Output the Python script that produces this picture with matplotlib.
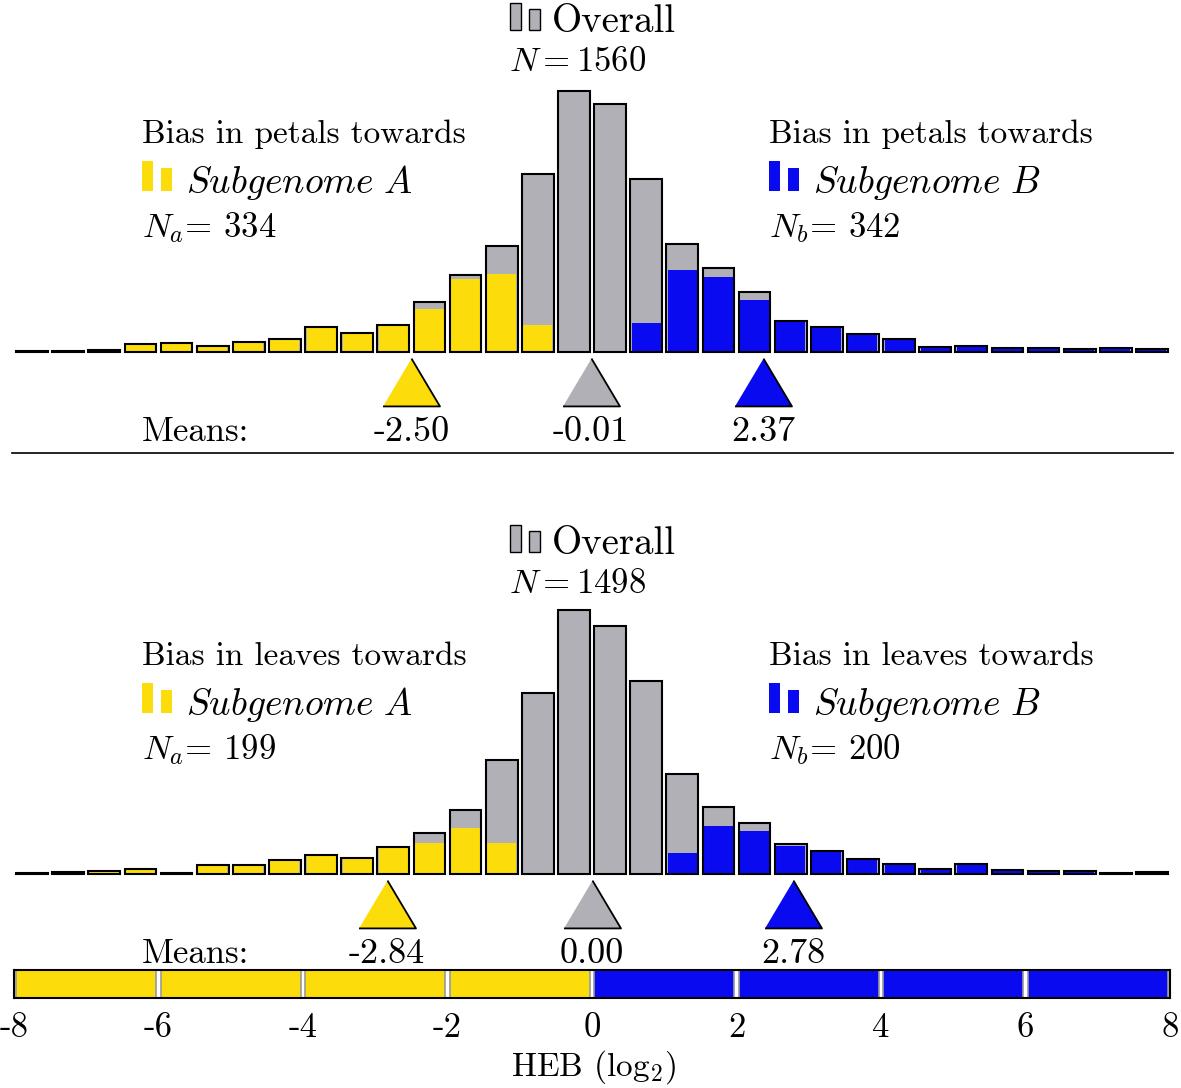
import numpy as np
import matplotlib
matplotlib.use("Agg")
import matplotlib.pyplot as plt
from matplotlib.patches import Rectangle
from matplotlib.lines import Line2D

plt.rcParams['font.family'] = ['cmr10', 'DejaVu Serif']
plt.rcParams['mathtext.fontset'] = 'cm'
plt.rcParams['axes.unicode_minus'] = False

# bins of width 0.5 from -8 to 8
bin_edges = np.arange(-8, 8, 0.5)

# petals (top panel)
petal_total = [1, 1, 2, 8, 9, 6, 10, 13, 25, 19, 27, 50, 77, 106, 178, 261,
               248, 173, 108, 84, 60, 31, 25, 18, 13, 5, 6, 4, 4, 3, 4, 3]
petal_a = [1, 1, 2, 8, 9, 6, 10, 13, 25, 19, 27, 43, 73, 78, 27, 0,
           0, 0, 0, 0, 0, 0, 0, 0, 0, 0, 0, 0, 0, 0, 0, 0]
petal_b = [0, 0, 0, 0, 0, 0, 0, 0, 0, 0, 0, 0, 0, 0, 0, 0,
           0, 29, 82, 75, 52, 31, 25, 18, 13, 5, 6, 4, 4, 3, 4, 3]
petal_means = [-2.50, -0.01, 2.37]
petal_n = [1560, 334, 342]

# leaves (bottom panel)
leaf_total = [1, 2, 3, 5, 1, 9, 9, 14, 19, 16, 27, 41, 64, 114, 181, 264,
              248, 193, 100, 67, 51, 30, 23, 15, 10, 5, 10, 4, 3, 3, 1, 2]
leaf_a = [1, 2, 3, 5, 1, 9, 9, 14, 19, 16, 27, 31, 46, 31, 0, 0,
          0, 0, 0, 0, 0, 0, 0, 0, 0, 0, 0, 0, 0, 0, 0, 0]
leaf_b = [0, 0, 0, 0, 0, 0, 0, 0, 0, 0, 0, 0, 0, 0, 0, 0,
          0, 0, 21, 48, 43, 28, 23, 15, 10, 5, 10, 4, 3, 3, 1, 2]
leaf_means = [-2.84, 0.00, 2.78]
leaf_n = [1498, 199, 200]

tick_values = list(range(-8, 9, 2))
tick_labels = ['-8', '-6', '-4', '-2', '0', '2', '4', '6', '8']

GRAY = '#b0b0b6'
YELLOW = '#fcdc0a'
BLUE = '#0a0af0'

W, H = 1181, 1088
fig = plt.figure(figsize=(W / 100, H / 100), dpi=100)


def fx(px):
    return px / W


def fy(py):
    return 1 - py / H


X0, X1 = 14, 1170
FS = 24
tri = [(-1, -0.84), (1, -0.84), (0, 0.84)]


def swatch(x, y0, y1, w, color, edge):
    fig.add_artist(Rectangle((fx(x), fy(y1)), w / W, (y1 - y0) / H,
                             transform=fig.transFigure, facecolor=color,
                             edgecolor='black' if edge else 'none', linewidth=1))


def draw_panel(ax, total, part_a, part_b, means, ns, organ, y_off):
    centers = bin_edges + 0.25
    ax.bar(centers, total, width=0.44, color=GRAY, linewidth=0)
    ax.bar(centers, part_a, width=0.40, color=YELLOW, linewidth=0)
    ax.bar(centers, part_b, width=0.40, color=BLUE, linewidth=0)
    ax.bar(centers, total, width=0.44, fill=False, edgecolor='black', linewidth=1.5)
    ax.set_xlim(-8, 8)
    ax.axis('off')

    for m, c in zip(means, [YELLOW, GRAY, BLUE]):
        ax.plot([m], [-30], marker=tri, markersize=41, markerfacecolor=c,
                markeredgecolor='black', markeredgewidth=1.3, linestyle='none')
        ax.text(m, -89, '%.2f' % m, ha='center', va='baseline', fontsize=26)

    # overall legend
    swatch(510, y_off + 3, y_off + 30, 11, GRAY, True)
    swatch(529, y_off + 9, y_off + 30, 11, GRAY, True)
    fig.text(fx(552), fy(y_off + 32), 'Overall', fontsize=28, va='baseline')
    fig.text(fx(509), fy(y_off + 71), r'$N = %d$' % ns[0], fontsize=25, va='baseline')

    for xl, color, sub, lab, n in [(142, YELLOW, 'A', 'a', ns[1]),
                                   (769, BLUE, 'B', 'b', ns[2])]:
        fig.text(fx(xl), fy(y_off + 143), 'Bias in %s towards' % organ,
                 fontsize=FS, va='baseline')
        swatch(xl, y_off + 161, y_off + 191, 11, color, False)
        swatch(xl + 19, y_off + 168, y_off + 191, 11, color, False)
        fig.text(fx(xl + 44), fy(y_off + 193), r'$Subgenome\ %s$' % sub,
                 fontsize=27, va='baseline')
        fig.text(fx(xl), fy(y_off + 237), r'$N_%s$= %d' % (lab, n),
                 fontsize=25, va='baseline')

    fig.text(fx(142), fy(y_off + 441), 'Means:', fontsize=25, va='baseline')


ax_top = fig.add_axes([fx(X0), fy(460), (X1 - X0) / W, 460 / H])
ax_top.set_ylim(-108, 352)
draw_panel(ax_top, petal_total, petal_a, petal_b, petal_means, petal_n, 'petals', 0)

ax_bot = fig.add_axes([fx(X0), fy(1000), (X1 - X0) / W, 540 / H])
ax_bot.set_ylim(-126, 414)
draw_panel(ax_bot, leaf_total, leaf_a, leaf_b, leaf_means, leaf_n, 'leaves', 522)

fig.add_artist(Line2D([fx(12), fx(1173)], [fy(453), fy(453)], color='black', linewidth=1.2))

# colour strip with the x axis
ax_strip = fig.add_axes([fx(X0), fy(998), (X1 - X0) / W, 28 / H])
seg_left = np.arange(-8, 8, 2)
seg_colors = [YELLOW] * 4 + [BLUE] * 4
ax_strip.bar(seg_left + 1, [1] * 8, width=1.94, color=seg_colors,
             edgecolor='#9a9a9a', linewidth=1.2)
ax_strip.set_xlim(-8, 8)
ax_strip.set_ylim(0, 1)
ax_strip.set_yticks([])
ax_strip.set_xticks(tick_values)
ax_strip.set_xticklabels(tick_labels, fontsize=25)
ax_strip.tick_params(axis='x', length=0, pad=10)
for s in ax_strip.spines.values():
    s.set_linewidth(1.5)

fig.text(fx(593), fy(1076), r'HEB (log$_2$)', fontsize=FS, ha='center', va='baseline')

fig.savefig('out.png', dpi=100)
